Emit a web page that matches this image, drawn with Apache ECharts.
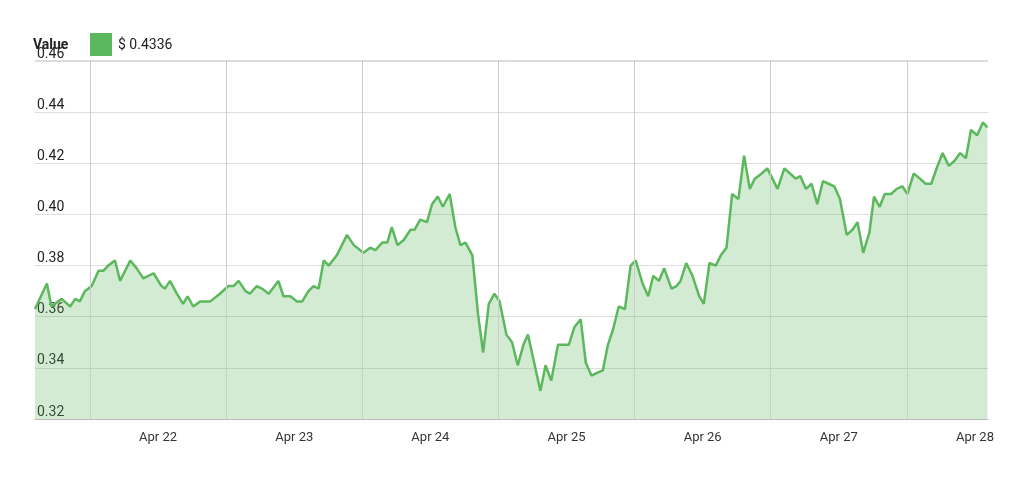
<!DOCTYPE html>
<html><head><meta charset="utf-8">
<script src="https://cdn.jsdelivr.net/npm/echarts@6/dist/echarts.min.js"></script>
<style>html,body{margin:0;padding:0;background:#fff}#c{width:1024px;height:481px}</style>
</head><body><div id="c"></div>
<script>
// hours relative to Apr 22 00:00
const hours = [-21.7,-19.6,-18.8,-17.0,-15.5,-14.6,-13.8,-12.9,-11.7,-10.5,-9.6,-8.8,-7.6,-6.7,-4.9,-3.8,-2.6,-0.8,0.6,1.2,2.1,3.3,4.4,5.2,6.2,7.4,9.2,10.9,12.4,13.3,14.2,15.4,16.2,17.4,18.3,19.5,21.2,22.1,23.3,24.5,25.4,26.5,27.4,28.3,29.2,30.1,31.5,33.3,34.5,36.2,37.4,
38.3,39.5,40.4,41.2,42.2,43.3,44.5,45.2,46.2,47.4,48.3,49.3,50.2,51.4,52.4,53.3,54.2,55.4,56.4,57.3,58.3,59.3,60.2,61.4,62.4,63.4,64.4,65.2,66.2,67.4,68.3,69.3,70.5,71.4,72.4,73.4,74.5,75.4,76.4,77.4,78.4,79.3,80.2,81.2,82.3,83.3,84.2,85.4,86.4,87.3,88.3,89.2,90.5,91.4,92.1,
93.1,94.2,95.4,96.2,97.2,98.3,99.2,100.2,101.2,102.3,103.3,104.3,105.2,106.4,107.4,108.3,109.2,110.4,111.4,112.4,113.2,114.2,115.2,116.2,117.2,118.2,119.2,120.2,121.4,122.4,123.3,124.3,125.4,126.2,127.2,128.1,129.2,130.2,131.2,132.1,133.2,134.3,135.3,136.3,137.4,138.3,139.4,140.4,141.4,142.4,143.3,144.4,145.4,146.2];
const values = [0.363,0.373,0.364,0.367,0.364,0.367,0.366,0.370,0.372,0.378,0.378,0.380,0.382,0.374,0.382,0.379,0.375,0.377,0.372,0.371,0.374,0.369,0.365,0.368,0.364,0.366,0.366,0.369,0.372,0.372,0.374,0.370,0.369,0.372,0.371,0.369,0.374,0.368,0.368,0.366,0.366,0.370,0.372,0.371,0.382,0.380,0.384,0.392,0.388,0.385,0.387,
0.386,0.389,0.389,0.395,0.388,0.390,0.394,0.394,0.398,0.397,0.404,0.407,0.403,0.408,0.395,0.388,0.389,0.384,0.361,0.346,0.365,0.369,0.366,0.353,0.350,0.341,0.349,0.353,0.343,0.331,0.341,0.335,0.349,0.349,0.349,0.356,0.359,0.342,0.337,0.338,0.339,0.349,0.355,0.364,0.363,0.380,0.382,0.373,0.368,0.376,0.374,0.379,0.371,0.372,0.374,
0.381,0.376,0.368,0.365,0.381,0.380,0.384,0.387,0.408,0.406,0.423,0.410,0.414,0.416,0.418,0.414,0.410,0.418,0.416,0.414,0.415,0.410,0.412,0.404,0.413,0.412,0.411,0.406,0.392,0.394,0.397,0.385,0.393,0.407,0.403,0.408,0.408,0.410,0.411,0.408,0.416,0.414,0.412,0.412,0.419,0.424,0.419,0.421,0.424,0.422,0.433,0.431,0.436,0.434];
const dayHours = [0,24,48,72,96,120,144];
const dayLabels = ['Apr 22','Apr 23','Apr 24','Apr 25','Apr 26','Apr 27','Apr 28'];
const gridHours = [-12,12,36,60,84,108,132];

const chart = echarts.init(document.getElementById('c'));
chart.setOption({
  animation:false,
  grid:{left:35,right:36,top:60,bottom:62},
  graphic:[
    {type:'text',left:33,top:38,style:{text:'Value',font:'bold 14px Roboto, sans-serif',fill:'#222'}},
    {type:'rect',shape:{x:90,y:33,width:22,height:23},style:{fill:'#5cb85c'}},
    {type:'text',left:118,top:38,style:{text:'$ 0.4336',font:'14px Roboto, sans-serif',fill:'#222'}}
  ],
  xAxis:{type:'value',min:-21.7,max:146.3,
    axisLine:{show:true,lineStyle:{color:'#bbb'}},axisTick:{show:false},splitLine:{show:false},
    axisLabel:{customValues:dayHours,formatter:v=>dayLabels[dayHours.indexOf(v)]||'',color:'#333',fontSize:13,fontFamily:'Roboto, sans-serif',margin:12}},
  yAxis:{type:'value',min:0.32,max:0.4604,interval:0.02,
    axisLine:{show:false},axisTick:{show:false},
    splitLine:{lineStyle:{color:'#ddd'}},
    axisLabel:{inside:true,showMaxLabel:false,formatter:v=>v.toFixed(2),color:'#222',fontSize:14,fontFamily:'Roboto, sans-serif',verticalAlign:'bottom',margin:2}},
  series:[{type:'line',data:hours.map((h,i)=>[h,values[i]]),symbol:'none',
    lineStyle:{color:'#5cb85c',width:2.5},
    areaStyle:{color:'rgba(92,184,92,0.4)'},
    markLine:{silent:true,symbol:'none',label:{show:false},
      lineStyle:{color:'#ccc',type:'solid',width:1},
      data:gridHours.map(h=>({xAxis:h}))}
  }]
});
</script></body></html>
